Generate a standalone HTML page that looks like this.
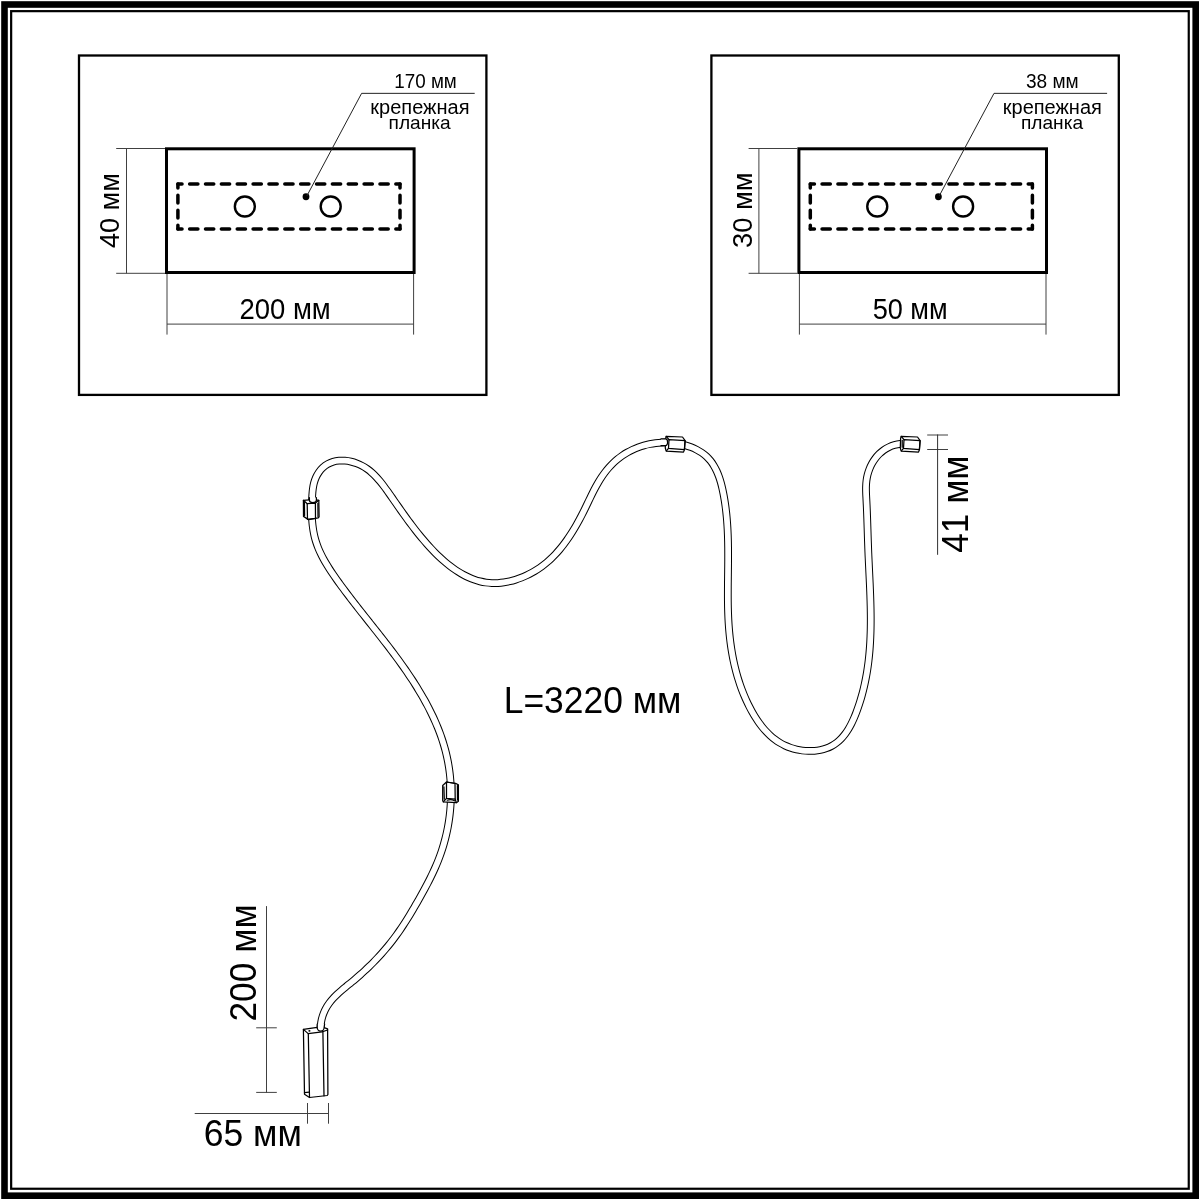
<!DOCTYPE html><html><head><meta charset="utf-8"><style>html,body{margin:0;padding:0;background:#fff;}svg{display:block;will-change:transform;}text{font-family:"Liberation Sans",sans-serif;fill:#000;}</style></head><body>
<svg width="1200" height="1200" viewBox="0 0 1200 1200">
<rect x="0" y="0" width="1200" height="1200" fill="#fff"/>
<rect x="4.5" y="4.5" width="1191.2" height="1191.2" fill="none" stroke="#000" stroke-width="6.6"/>
<rect x="11.15" y="11.15" width="1177.6" height="1177.6" fill="none" stroke="#000" stroke-width="2.2"/>
<g transform="translate(0,0)">
<rect x="79" y="55.5" width="407.4" height="339.4" fill="none" stroke="#000" stroke-width="2.3"/>
<rect x="166.5" y="148.8" width="247.6" height="123.7" fill="none" stroke="#000" stroke-width="3"/>
<g stroke="#000" stroke-width="3.5" stroke-linecap="round" fill="none">
<line x1="177.9" y1="184.1" x2="400" y2="184.1" stroke-dasharray="8.25 7.61" stroke-dashoffset="4.12"/>
<line x1="177.9" y1="229.1" x2="400" y2="229.1" stroke-dasharray="8.25 7.61" stroke-dashoffset="4.12"/>
<line x1="177.9" y1="184.1" x2="177.9" y2="229.1" stroke-dasharray="7.8 7.2" stroke-dashoffset="3.9"/>
<line x1="400" y1="184.1" x2="400" y2="229.1" stroke-dasharray="7.8 7.2" stroke-dashoffset="3.9"/>
</g>
<circle cx="244.85" cy="206.5" r="10" fill="none" stroke="#000" stroke-width="2.4"/>
<circle cx="330.7" cy="206.5" r="10" fill="none" stroke="#000" stroke-width="2.4"/>
<circle cx="306" cy="196.75" r="3.4" fill="#000"/>
<polyline points="306.8,196 361.6,93.35 474.7,93.35" fill="none" stroke="#222" stroke-width="1"/>
<g stroke="#404040" stroke-width="1" fill="none">
<line x1="116.2" y1="148.5" x2="165" y2="148.5"/>
<line x1="116.2" y1="273.3" x2="165" y2="273.3"/>
<line x1="126.5" y1="148.5" x2="126.5" y2="273.3"/>
<line x1="167" y1="274" x2="167" y2="334.6"/>
<line x1="413.6" y1="274" x2="413.6" y2="334.6"/>
<line x1="167" y1="324.1" x2="413.6" y2="324.1"/>
</g>
</g>
<g transform="translate(632.4,0)">
<rect x="79" y="55.5" width="407.4" height="339.4" fill="none" stroke="#000" stroke-width="2.3"/>
<rect x="166.5" y="148.8" width="247.6" height="123.7" fill="none" stroke="#000" stroke-width="3"/>
<g stroke="#000" stroke-width="3.5" stroke-linecap="round" fill="none">
<line x1="177.9" y1="184.1" x2="400" y2="184.1" stroke-dasharray="8.25 7.61" stroke-dashoffset="4.12"/>
<line x1="177.9" y1="229.1" x2="400" y2="229.1" stroke-dasharray="8.25 7.61" stroke-dashoffset="4.12"/>
<line x1="177.9" y1="184.1" x2="177.9" y2="229.1" stroke-dasharray="7.8 7.2" stroke-dashoffset="3.9"/>
<line x1="400" y1="184.1" x2="400" y2="229.1" stroke-dasharray="7.8 7.2" stroke-dashoffset="3.9"/>
</g>
<circle cx="244.85" cy="206.5" r="10" fill="none" stroke="#000" stroke-width="2.4"/>
<circle cx="330.7" cy="206.5" r="10" fill="none" stroke="#000" stroke-width="2.4"/>
<circle cx="306" cy="196.75" r="3.4" fill="#000"/>
<polyline points="306.8,196 361.6,93.35 474.7,93.35" fill="none" stroke="#222" stroke-width="1"/>
<g stroke="#404040" stroke-width="1" fill="none">
<line x1="116.2" y1="148.5" x2="165" y2="148.5"/>
<line x1="116.2" y1="273.3" x2="165" y2="273.3"/>
<line x1="126.5" y1="148.5" x2="126.5" y2="273.3"/>
<line x1="167" y1="274" x2="167" y2="334.6"/>
<line x1="413.6" y1="274" x2="413.6" y2="334.6"/>
<line x1="167" y1="324.1" x2="413.6" y2="324.1"/>
</g>
</g>
<text x="394.27" y="88" font-size="19.69" textLength="62.53" lengthAdjust="spacingAndGlyphs">170 мм</text>
<text x="370.36" y="114.25" font-size="19.31" textLength="99.13" lengthAdjust="spacingAndGlyphs">крепежная</text>
<text x="388.56" y="128.8" font-size="18.55" textLength="62.14" lengthAdjust="spacingAndGlyphs">планка</text>
<text x="239.42" y="319.3" font-size="28.79" textLength="91.27" lengthAdjust="spacingAndGlyphs">200 мм</text>
<text transform="translate(119,247.5) rotate(-90)" x="-0.62" y="0" font-size="27.21" textLength="74.99" lengthAdjust="spacingAndGlyphs">40 мм</text>
<text x="1025.97" y="88" font-size="19.69" textLength="52.74" lengthAdjust="spacingAndGlyphs">38 мм</text>
<text x="1002.76" y="114.25" font-size="19.31" textLength="99.13" lengthAdjust="spacingAndGlyphs">крепежная</text>
<text x="1020.96" y="128.8" font-size="18.55" textLength="62.14" lengthAdjust="spacingAndGlyphs">планка</text>
<text x="872.66" y="319.2" font-size="28.79" textLength="75" lengthAdjust="spacingAndGlyphs">50 мм</text>
<text transform="translate(752.25,246.9) rotate(-90)" x="-1.04" y="0" font-size="27.21" textLength="75.42" lengthAdjust="spacingAndGlyphs">30 мм</text>
<text x="503.69" y="712.9" font-size="36.38" textLength="177.74" lengthAdjust="spacingAndGlyphs">L=3220 мм</text>
<text transform="translate(968.4,551.9) rotate(-90)" x="-0.81" y="0" font-size="36.48" textLength="97.12" lengthAdjust="spacingAndGlyphs">41 мм</text>
<text transform="translate(255.9,1019.8) rotate(-90)" x="-1.78" y="0" font-size="36.38" textLength="117.31" lengthAdjust="spacingAndGlyphs">200 мм</text>
<text x="203.7" y="1146.3" font-size="36.66" textLength="98.15" lengthAdjust="spacingAndGlyphs">65 мм</text>
<g stroke="#404040" stroke-width="1" fill="none">
<line x1="927.2" y1="435" x2="948" y2="435"/>
<line x1="927.2" y1="449.5" x2="948" y2="449.5"/>
<line x1="937.6" y1="434.5" x2="937.6" y2="554.8" stroke="#303030"/>
<line x1="266.5" y1="906.1" x2="266.5" y2="1092.8"/>
<line x1="256.2" y1="1027.8" x2="276.8" y2="1027.8"/>
<line x1="256.2" y1="1092.4" x2="276.8" y2="1092.4"/>
<line x1="194.7" y1="1113.5" x2="329" y2="1113.5"/>
<line x1="307.5" y1="1103" x2="307.5" y2="1123.7"/>
<line x1="328.5" y1="1103" x2="328.5" y2="1123.7"/>
</g>
<path d="M320.73,1031.21 C320.74,1030.21 320.62,1027.19 320.78,1025.19 C320.95,1023.19 321.28,1021.15 321.73,1019.2 C322.18,1017.26 322.78,1015.36 323.49,1013.52 C324.21,1011.67 325.06,1009.87 326.03,1008.12 C327,1006.37 328.14,1004.64 329.32,1003.02 C330.51,1001.41 331.79,999.9 333.13,998.43 C334.47,996.95 335.92,995.53 337.37,994.15 C338.82,992.78 340.34,991.47 341.84,990.17 C343.35,988.87 344.87,987.64 346.42,986.37 C347.96,985.09 349.57,983.81 351.12,982.54 C352.66,981.26 354.17,980.01 355.69,978.71 C357.21,977.41 358.75,976.07 360.25,974.75 C361.74,973.42 363.18,972.11 364.64,970.76 C366.1,969.41 367.57,968.02 369,966.63 C370.44,965.23 371.86,963.83 373.27,962.4 C374.67,960.98 376.04,959.56 377.42,958.09 C378.8,956.62 380.19,955.11 381.53,953.61 C382.87,952.12 384.17,950.63 385.46,949.11 C386.75,947.59 388.02,946.06 389.27,944.5 C390.52,942.95 391.74,941.4 392.95,939.8 C394.17,938.2 395.4,936.55 396.57,934.92 C397.75,933.28 398.89,931.66 400.02,930.01 C401.15,928.37 402.26,926.7 403.36,925.03 C404.46,923.36 405.55,921.66 406.61,919.97 C407.67,918.29 408.7,916.64 409.73,914.94 C410.77,913.24 411.81,911.5 412.83,909.77 C413.85,908.04 414.86,906.3 415.86,904.56 C416.87,902.82 417.87,901.06 418.85,899.33 C419.83,897.59 420.78,895.89 421.75,894.15 C422.71,892.41 423.69,890.64 424.64,888.87 C425.59,887.11 426.54,885.34 427.46,883.56 C428.39,881.79 429.3,880.01 430.19,878.22 C431.08,876.43 431.96,874.63 432.81,872.82 C433.66,871.01 434.49,869.2 435.29,867.37 C436.1,865.54 436.88,863.71 437.63,861.86 C438.38,860.01 439.11,858.15 439.8,856.27 C440.49,854.4 441.15,852.51 441.78,850.61 C442.41,848.71 443,846.8 443.57,844.88 C444.13,842.96 444.67,841.03 445.17,839.09 C445.67,837.15 446.14,835.2 446.57,833.24 C447.01,831.29 447.42,829.32 447.79,827.35 C448.16,825.38 448.5,823.4 448.81,821.42 C449.11,819.44 449.39,817.43 449.63,815.46 C449.87,813.48 450.07,811.54 450.24,809.56 C450.42,807.58 450.56,805.56 450.67,803.56 C450.78,801.56 450.85,799.55 450.9,797.55 C450.94,795.54 450.95,793.54 450.92,791.54 C450.89,789.53 450.83,787.53 450.74,785.53 C450.65,783.53 450.52,781.54 450.35,779.54 C450.19,777.55 450,775.56 449.76,773.58 C449.53,771.6 449.27,769.62 448.96,767.64 C448.66,765.67 448.33,763.72 447.96,761.75 C447.58,759.77 447.16,757.76 446.72,755.81 C446.27,753.85 445.8,751.93 445.28,750.01 C444.77,748.08 444.23,746.17 443.65,744.26 C443.08,742.36 442.47,740.47 441.83,738.57 C441.19,736.67 440.5,734.73 439.79,732.85 C439.09,730.96 438.37,729.12 437.62,727.26 C436.86,725.41 436.08,723.57 435.28,721.74 C434.47,719.9 433.64,718.06 432.79,716.26 C431.94,714.46 431.09,712.71 430.2,710.93 C429.31,709.14 428.38,707.34 427.44,705.56 C426.5,703.78 425.53,702 424.56,700.25 C423.59,698.51 422.62,696.81 421.62,695.08 C420.61,693.35 419.56,691.6 418.52,689.89 C417.49,688.18 416.46,686.52 415.39,684.83 C414.32,683.13 413.22,681.41 412.12,679.74 C411.03,678.07 409.95,676.45 408.84,674.79 C407.72,673.14 406.58,671.47 405.44,669.82 C404.3,668.18 403.14,666.54 401.98,664.91 C400.82,663.28 399.65,661.66 398.48,660.04 C397.3,658.43 396.12,656.82 394.93,655.22 C393.74,653.62 392.55,652.03 391.33,650.43 C390.12,648.83 388.88,647.2 387.65,645.6 C386.43,644.01 385.22,642.44 384,640.87 C382.78,639.3 381.55,637.73 380.32,636.16 C379.09,634.59 377.87,633.04 376.63,631.46 C375.38,629.89 374.11,628.28 372.86,626.7 C371.61,625.13 370.38,623.58 369.15,622.02 C367.91,620.45 366.67,618.89 365.43,617.33 C364.19,615.76 362.95,614.2 361.72,612.63 C360.48,611.06 359.24,609.49 358.01,607.92 C356.78,606.34 355.55,604.77 354.32,603.18 C353.09,601.6 351.87,600.02 350.65,598.42 C349.43,596.83 348.22,595.24 347.01,593.63 C345.8,592.03 344.58,590.41 343.39,588.8 C342.2,587.2 341.04,585.61 339.87,584.01 C338.7,582.4 337.55,580.8 336.39,579.16 C335.23,577.53 334.05,575.85 332.92,574.19 C331.79,572.53 330.7,570.9 329.62,569.22 C328.54,567.54 327.46,565.82 326.43,564.1 C325.4,562.38 324.4,560.65 323.45,558.9 C322.5,557.14 321.6,555.39 320.74,553.59 C319.88,551.79 319.05,549.94 318.3,548.09 C317.55,546.23 316.85,544.36 316.24,542.46 C315.62,540.56 315.07,538.64 314.59,536.7 C314.12,534.76 313.72,532.78 313.38,530.81 C313.04,528.84 312.77,526.88 312.55,524.89 C312.33,522.91 312.17,520.89 312.05,518.89 C311.93,516.89 311.86,514.91 311.82,512.91 C311.79,510.91 311.79,508.88 311.82,506.88 C311.85,504.88 311.91,502.92 311.98,500.91 C312.06,498.91 312.15,496.84 312.29,494.84 C312.43,492.85 312.57,490.9 312.85,488.93 C313.13,486.96 313.45,484.95 313.97,483.02 C314.49,481.1 315.13,479.18 315.95,477.37 C316.77,475.56 317.75,473.78 318.89,472.16 C320.03,470.54 321.32,468.99 322.77,467.64 C324.23,466.28 325.91,465 327.64,464.02 C329.36,463.03 331.23,462.28 333.13,461.72 C335.02,461.17 337.03,460.86 339.01,460.69 C340.99,460.52 343.01,460.56 345,460.72 C347,460.88 349.02,461.21 350.96,461.65 C352.91,462.09 354.82,462.67 356.68,463.36 C358.54,464.06 360.36,464.88 362.13,465.83 C363.89,466.77 365.64,467.88 367.26,469.03 C368.89,470.18 370.4,471.42 371.89,472.74 C373.38,474.06 374.83,475.51 376.21,476.96 C377.59,478.4 378.87,479.89 380.16,481.44 C381.44,482.98 382.7,484.62 383.91,486.22 C385.12,487.82 386.26,489.42 387.42,491.04 C388.57,492.66 389.71,494.31 390.85,495.94 C391.99,497.58 393.11,499.2 394.25,500.85 C395.4,502.5 396.57,504.19 397.72,505.83 C398.86,507.47 399.98,509.07 401.13,510.7 C402.28,512.33 403.45,513.98 404.62,515.61 C405.79,517.23 406.94,518.83 408.13,520.44 C409.32,522.06 410.53,523.69 411.74,525.29 C412.95,526.89 414.16,528.46 415.39,530.03 C416.62,531.61 417.86,533.18 419.12,534.74 C420.38,536.29 421.66,537.84 422.95,539.37 C424.24,540.89 425.53,542.39 426.85,543.88 C428.18,545.38 429.52,546.86 430.89,548.33 C432.26,549.79 433.65,551.24 435.06,552.66 C436.48,554.08 437.91,555.48 439.37,556.85 C440.82,558.21 442.28,559.55 443.79,560.86 C445.3,562.17 446.84,563.46 448.42,564.71 C449.99,565.96 451.61,567.19 453.24,568.35 C454.87,569.51 456.51,570.62 458.19,571.69 C459.88,572.75 461.6,573.77 463.35,574.72 C465.1,575.67 466.89,576.56 468.71,577.38 C470.53,578.2 472.38,578.96 474.27,579.62 C476.16,580.29 478.1,580.88 480.05,581.37 C481.99,581.86 483.98,582.25 485.95,582.54 C487.92,582.83 489.88,583 491.87,583.08 C493.86,583.17 495.89,583.14 497.89,583.03 C499.88,582.91 501.86,582.7 503.85,582.41 C505.84,582.12 507.86,581.73 509.81,581.28 C511.76,580.83 513.64,580.31 515.54,579.72 C517.44,579.13 519.33,578.46 521.19,577.73 C523.05,577 524.9,576.2 526.71,575.34 C528.52,574.48 530.32,573.56 532.07,572.59 C533.82,571.61 535.54,570.58 537.22,569.5 C538.9,568.41 540.52,567.29 542.13,566.1 C543.73,564.91 545.32,563.65 546.84,562.36 C548.37,561.07 549.86,559.73 551.3,558.35 C552.75,556.97 554.15,555.55 555.52,554.1 C556.88,552.64 558.21,551.15 559.51,549.63 C560.8,548.1 562.05,546.54 563.28,544.95 C564.51,543.37 565.7,541.74 566.86,540.11 C568.01,538.48 569.11,536.86 570.2,535.18 C571.3,533.51 572.39,531.77 573.43,530.05 C574.48,528.34 575.48,526.63 576.47,524.89 C577.46,523.16 578.42,521.41 579.37,519.65 C580.32,517.89 581.24,516.12 582.15,514.34 C583.06,512.57 583.94,510.79 584.83,508.99 C585.72,507.19 586.6,505.34 587.47,503.54 C588.34,501.74 589.17,499.98 590.04,498.19 C590.91,496.4 591.78,494.6 592.69,492.81 C593.59,491.01 594.52,489.19 595.47,487.43 C596.42,485.66 597.37,483.96 598.38,482.24 C599.4,480.53 600.46,478.81 601.57,477.14 C602.68,475.47 603.83,473.83 605.05,472.23 C606.27,470.64 607.56,469.06 608.88,467.56 C610.21,466.07 611.57,464.63 613,463.25 C614.42,461.87 615.89,460.54 617.43,459.27 C618.98,458 620.62,456.77 622.26,455.63 C623.91,454.5 625.57,453.45 627.31,452.46 C629.04,451.47 630.87,450.52 632.69,449.67 C634.5,448.82 636.33,448.05 638.2,447.35 C640.08,446.65 642,446.02 643.91,445.47 C645.82,444.92 647.71,444.46 649.67,444.06 C651.62,443.66 653.65,443.32 655.64,443.07 C657.62,442.82 659.6,442.65 661.59,442.56 C663.59,442.46 665.59,442.44 667.59,442.5 C669.59,442.56 671.59,442.7 673.58,442.92 C675.57,443.14 677.55,443.44 679.51,443.82 C681.46,444.2 683.39,444.66 685.32,445.22 C687.24,445.78 689.19,446.43 691.05,447.16 C692.91,447.89 694.7,448.69 696.47,449.6 C698.23,450.52 699.99,451.51 701.64,452.63 C703.29,453.76 704.92,455.01 706.39,456.37 C707.86,457.73 709.24,459.24 710.48,460.79 C711.72,462.34 712.83,463.97 713.85,465.67 C714.88,467.37 715.81,469.17 716.66,470.99 C717.5,472.81 718.24,474.68 718.93,476.57 C719.61,478.46 720.21,480.41 720.76,482.32 C721.31,484.23 721.78,486.11 722.23,488.05 C722.68,489.99 723.09,491.98 723.47,493.96 C723.85,495.93 724.2,497.91 724.52,499.88 C724.84,501.86 725.14,503.83 725.41,505.8 C725.68,507.78 725.92,509.74 726.14,511.73 C726.37,513.72 726.57,515.73 726.75,517.74 C726.93,519.74 727.08,521.76 727.22,523.75 C727.36,525.74 727.48,527.68 727.58,529.67 C727.68,531.66 727.77,533.67 727.84,535.68 C727.91,537.68 727.97,539.68 728.01,541.68 C728.06,543.69 728.09,545.69 728.11,547.69 C728.13,549.69 728.14,551.69 728.14,553.69 C728.15,555.69 728.14,557.69 728.13,559.7 C728.12,561.7 728.11,563.7 728.09,565.7 C728.07,567.7 728.04,569.7 728.02,571.69 C728,573.69 727.97,575.69 727.95,577.69 C727.93,579.69 727.9,581.69 727.88,583.69 C727.86,585.69 727.85,587.68 727.84,589.68 C727.83,591.68 727.82,593.68 727.83,595.67 C727.83,597.67 727.84,599.65 727.86,601.66 C727.89,603.68 727.92,605.73 727.96,607.75 C728.01,609.76 728.06,611.74 728.14,613.73 C728.21,615.73 728.3,617.72 728.4,619.72 C728.51,621.71 728.62,623.71 728.77,625.7 C728.91,627.7 729.07,629.69 729.25,631.68 C729.43,633.68 729.63,635.67 729.85,637.66 C730.07,639.65 730.32,641.64 730.59,643.62 C730.85,645.6 731.15,647.59 731.46,649.56 C731.78,651.54 732.12,653.53 732.48,655.48 C732.84,657.44 733.22,659.34 733.63,661.29 C734.05,663.23 734.49,665.2 734.96,667.14 C735.44,669.09 735.93,671.03 736.46,672.96 C736.99,674.89 737.55,676.81 738.13,678.73 C738.72,680.64 739.34,682.55 739.99,684.45 C740.64,686.34 741.32,688.23 742.03,690.11 C742.74,691.98 743.49,693.86 744.27,695.7 C745.04,697.54 745.83,699.33 746.67,701.15 C747.51,702.96 748.41,704.81 749.32,706.6 C750.23,708.39 751.16,710.15 752.14,711.89 C753.12,713.62 754.13,715.35 755.19,717.04 C756.24,718.72 757.33,720.38 758.48,722.01 C759.63,723.64 760.84,725.26 762.1,726.82 C763.35,728.37 764.63,729.88 766,731.34 C767.36,732.8 768.79,734.23 770.27,735.58 C771.75,736.92 773.28,738.21 774.87,739.41 C776.47,740.61 778.11,741.74 779.83,742.77 C781.54,743.81 783.34,744.78 785.15,745.62 C786.96,746.47 788.79,747.2 790.68,747.84 C792.57,748.49 794.55,749.04 796.51,749.49 C798.46,749.94 800.44,750.28 802.42,750.53 C804.41,750.78 806.42,750.93 808.41,750.98 C810.4,751.02 812.37,750.97 814.36,750.8 C816.35,750.63 818.4,750.35 820.35,749.95 C822.3,749.54 824.18,749.05 826.06,748.38 C827.93,747.72 829.85,746.91 831.6,745.97 C833.36,745.03 835.01,743.95 836.59,742.74 C838.17,741.52 839.69,740.13 841.08,738.7 C842.48,737.26 843.74,735.74 844.95,734.15 C846.15,732.56 847.26,730.88 848.32,729.17 C849.37,727.47 850.35,725.67 851.26,723.89 C852.18,722.12 853,720.33 853.81,718.51 C854.61,716.69 855.37,714.82 856.09,712.95 C856.81,711.09 857.49,709.2 858.14,707.31 C858.8,705.43 859.41,703.55 860.01,701.65 C860.61,699.74 861.18,697.81 861.72,695.88 C862.26,693.96 862.76,692.05 863.25,690.1 C863.73,688.16 864.2,686.19 864.63,684.22 C865.06,682.26 865.46,680.3 865.84,678.33 C866.22,676.36 866.57,674.39 866.9,672.42 C867.23,670.45 867.53,668.48 867.8,666.51 C868.08,664.53 868.34,662.57 868.57,660.58 C868.81,658.59 869.02,656.55 869.21,654.55 C869.41,652.56 869.57,650.59 869.72,648.61 C869.87,646.62 870,644.65 870.12,642.65 C870.23,640.65 870.33,638.6 870.41,636.6 C870.49,634.59 870.56,632.62 870.61,630.63 C870.66,628.64 870.69,626.64 870.71,624.65 C870.73,622.66 870.74,620.68 870.74,618.67 C870.74,616.66 870.72,614.6 870.69,612.59 C870.67,610.58 870.63,608.59 870.59,606.59 C870.54,604.6 870.49,602.6 870.43,600.6 C870.37,598.6 870.3,596.6 870.23,594.6 C870.16,592.6 870.08,590.58 869.99,588.59 C869.91,586.61 869.83,584.67 869.74,582.68 C869.65,580.69 869.55,578.67 869.46,576.67 C869.36,574.67 869.27,572.66 869.17,570.66 C869.08,568.66 868.98,566.65 868.89,564.65 C868.79,562.65 868.7,560.64 868.61,558.64 C868.52,556.64 868.43,554.62 868.35,552.63 C868.27,550.64 868.19,548.7 868.12,546.71 C868.05,544.73 867.98,542.71 867.91,540.71 C867.84,538.7 867.78,536.7 867.72,534.7 C867.65,532.69 867.59,530.69 867.53,528.69 C867.47,526.69 867.4,524.68 867.34,522.68 C867.27,520.67 867.21,518.67 867.13,516.66 C867.06,514.66 866.99,512.64 866.91,510.65 C866.83,508.66 866.74,506.71 866.65,504.72 C866.56,502.72 866.45,500.7 866.35,498.69 C866.25,496.68 866.13,494.65 866.07,492.66 C866.02,490.67 865.96,488.74 866.03,486.75 C866.09,484.75 866.2,482.68 866.46,480.69 C866.71,478.7 867.08,476.74 867.57,474.81 C868.06,472.87 868.67,470.95 869.39,469.09 C870.12,467.24 870.97,465.41 871.92,463.67 C872.87,461.93 873.93,460.25 875.12,458.66 C876.31,457.07 877.63,455.52 879.04,454.11 C880.46,452.7 881.99,451.39 883.61,450.23 C885.24,449.07 887.02,448 888.81,447.14 C890.61,446.27 892.48,445.56 894.4,445.02 C896.31,444.48 898.34,444.1 900.31,443.9 C902.28,443.71 905.24,443.86 906.23,443.85" fill="none" stroke="#000" stroke-width="7.75" stroke-linejoin="round"/>
<path d="M320.73,1031.21 C320.74,1030.21 320.62,1027.19 320.78,1025.19 C320.95,1023.19 321.28,1021.15 321.73,1019.2 C322.18,1017.26 322.78,1015.36 323.49,1013.52 C324.21,1011.67 325.06,1009.87 326.03,1008.12 C327,1006.37 328.14,1004.64 329.32,1003.02 C330.51,1001.41 331.79,999.9 333.13,998.43 C334.47,996.95 335.92,995.53 337.37,994.15 C338.82,992.78 340.34,991.47 341.84,990.17 C343.35,988.87 344.87,987.64 346.42,986.37 C347.96,985.09 349.57,983.81 351.12,982.54 C352.66,981.26 354.17,980.01 355.69,978.71 C357.21,977.41 358.75,976.07 360.25,974.75 C361.74,973.42 363.18,972.11 364.64,970.76 C366.1,969.41 367.57,968.02 369,966.63 C370.44,965.23 371.86,963.83 373.27,962.4 C374.67,960.98 376.04,959.56 377.42,958.09 C378.8,956.62 380.19,955.11 381.53,953.61 C382.87,952.12 384.17,950.63 385.46,949.11 C386.75,947.59 388.02,946.06 389.27,944.5 C390.52,942.95 391.74,941.4 392.95,939.8 C394.17,938.2 395.4,936.55 396.57,934.92 C397.75,933.28 398.89,931.66 400.02,930.01 C401.15,928.37 402.26,926.7 403.36,925.03 C404.46,923.36 405.55,921.66 406.61,919.97 C407.67,918.29 408.7,916.64 409.73,914.94 C410.77,913.24 411.81,911.5 412.83,909.77 C413.85,908.04 414.86,906.3 415.86,904.56 C416.87,902.82 417.87,901.06 418.85,899.33 C419.83,897.59 420.78,895.89 421.75,894.15 C422.71,892.41 423.69,890.64 424.64,888.87 C425.59,887.11 426.54,885.34 427.46,883.56 C428.39,881.79 429.3,880.01 430.19,878.22 C431.08,876.43 431.96,874.63 432.81,872.82 C433.66,871.01 434.49,869.2 435.29,867.37 C436.1,865.54 436.88,863.71 437.63,861.86 C438.38,860.01 439.11,858.15 439.8,856.27 C440.49,854.4 441.15,852.51 441.78,850.61 C442.41,848.71 443,846.8 443.57,844.88 C444.13,842.96 444.67,841.03 445.17,839.09 C445.67,837.15 446.14,835.2 446.57,833.24 C447.01,831.29 447.42,829.32 447.79,827.35 C448.16,825.38 448.5,823.4 448.81,821.42 C449.11,819.44 449.39,817.43 449.63,815.46 C449.87,813.48 450.07,811.54 450.24,809.56 C450.42,807.58 450.56,805.56 450.67,803.56 C450.78,801.56 450.85,799.55 450.9,797.55 C450.94,795.54 450.95,793.54 450.92,791.54 C450.89,789.53 450.83,787.53 450.74,785.53 C450.65,783.53 450.52,781.54 450.35,779.54 C450.19,777.55 450,775.56 449.76,773.58 C449.53,771.6 449.27,769.62 448.96,767.64 C448.66,765.67 448.33,763.72 447.96,761.75 C447.58,759.77 447.16,757.76 446.72,755.81 C446.27,753.85 445.8,751.93 445.28,750.01 C444.77,748.08 444.23,746.17 443.65,744.26 C443.08,742.36 442.47,740.47 441.83,738.57 C441.19,736.67 440.5,734.73 439.79,732.85 C439.09,730.96 438.37,729.12 437.62,727.26 C436.86,725.41 436.08,723.57 435.28,721.74 C434.47,719.9 433.64,718.06 432.79,716.26 C431.94,714.46 431.09,712.71 430.2,710.93 C429.31,709.14 428.38,707.34 427.44,705.56 C426.5,703.78 425.53,702 424.56,700.25 C423.59,698.51 422.62,696.81 421.62,695.08 C420.61,693.35 419.56,691.6 418.52,689.89 C417.49,688.18 416.46,686.52 415.39,684.83 C414.32,683.13 413.22,681.41 412.12,679.74 C411.03,678.07 409.95,676.45 408.84,674.79 C407.72,673.14 406.58,671.47 405.44,669.82 C404.3,668.18 403.14,666.54 401.98,664.91 C400.82,663.28 399.65,661.66 398.48,660.04 C397.3,658.43 396.12,656.82 394.93,655.22 C393.74,653.62 392.55,652.03 391.33,650.43 C390.12,648.83 388.88,647.2 387.65,645.6 C386.43,644.01 385.22,642.44 384,640.87 C382.78,639.3 381.55,637.73 380.32,636.16 C379.09,634.59 377.87,633.04 376.63,631.46 C375.38,629.89 374.11,628.28 372.86,626.7 C371.61,625.13 370.38,623.58 369.15,622.02 C367.91,620.45 366.67,618.89 365.43,617.33 C364.19,615.76 362.95,614.2 361.72,612.63 C360.48,611.06 359.24,609.49 358.01,607.92 C356.78,606.34 355.55,604.77 354.32,603.18 C353.09,601.6 351.87,600.02 350.65,598.42 C349.43,596.83 348.22,595.24 347.01,593.63 C345.8,592.03 344.58,590.41 343.39,588.8 C342.2,587.2 341.04,585.61 339.87,584.01 C338.7,582.4 337.55,580.8 336.39,579.16 C335.23,577.53 334.05,575.85 332.92,574.19 C331.79,572.53 330.7,570.9 329.62,569.22 C328.54,567.54 327.46,565.82 326.43,564.1 C325.4,562.38 324.4,560.65 323.45,558.9 C322.5,557.14 321.6,555.39 320.74,553.59 C319.88,551.79 319.05,549.94 318.3,548.09 C317.55,546.23 316.85,544.36 316.24,542.46 C315.62,540.56 315.07,538.64 314.59,536.7 C314.12,534.76 313.72,532.78 313.38,530.81 C313.04,528.84 312.77,526.88 312.55,524.89 C312.33,522.91 312.17,520.89 312.05,518.89 C311.93,516.89 311.86,514.91 311.82,512.91 C311.79,510.91 311.79,508.88 311.82,506.88 C311.85,504.88 311.91,502.92 311.98,500.91 C312.06,498.91 312.15,496.84 312.29,494.84 C312.43,492.85 312.57,490.9 312.85,488.93 C313.13,486.96 313.45,484.95 313.97,483.02 C314.49,481.1 315.13,479.18 315.95,477.37 C316.77,475.56 317.75,473.78 318.89,472.16 C320.03,470.54 321.32,468.99 322.77,467.64 C324.23,466.28 325.91,465 327.64,464.02 C329.36,463.03 331.23,462.28 333.13,461.72 C335.02,461.17 337.03,460.86 339.01,460.69 C340.99,460.52 343.01,460.56 345,460.72 C347,460.88 349.02,461.21 350.96,461.65 C352.91,462.09 354.82,462.67 356.68,463.36 C358.54,464.06 360.36,464.88 362.13,465.83 C363.89,466.77 365.64,467.88 367.26,469.03 C368.89,470.18 370.4,471.42 371.89,472.74 C373.38,474.06 374.83,475.51 376.21,476.96 C377.59,478.4 378.87,479.89 380.16,481.44 C381.44,482.98 382.7,484.62 383.91,486.22 C385.12,487.82 386.26,489.42 387.42,491.04 C388.57,492.66 389.71,494.31 390.85,495.94 C391.99,497.58 393.11,499.2 394.25,500.85 C395.4,502.5 396.57,504.19 397.72,505.83 C398.86,507.47 399.98,509.07 401.13,510.7 C402.28,512.33 403.45,513.98 404.62,515.61 C405.79,517.23 406.94,518.83 408.13,520.44 C409.32,522.06 410.53,523.69 411.74,525.29 C412.95,526.89 414.16,528.46 415.39,530.03 C416.62,531.61 417.86,533.18 419.12,534.74 C420.38,536.29 421.66,537.84 422.95,539.37 C424.24,540.89 425.53,542.39 426.85,543.88 C428.18,545.38 429.52,546.86 430.89,548.33 C432.26,549.79 433.65,551.24 435.06,552.66 C436.48,554.08 437.91,555.48 439.37,556.85 C440.82,558.21 442.28,559.55 443.79,560.86 C445.3,562.17 446.84,563.46 448.42,564.71 C449.99,565.96 451.61,567.19 453.24,568.35 C454.87,569.51 456.51,570.62 458.19,571.69 C459.88,572.75 461.6,573.77 463.35,574.72 C465.1,575.67 466.89,576.56 468.71,577.38 C470.53,578.2 472.38,578.96 474.27,579.62 C476.16,580.29 478.1,580.88 480.05,581.37 C481.99,581.86 483.98,582.25 485.95,582.54 C487.92,582.83 489.88,583 491.87,583.08 C493.86,583.17 495.89,583.14 497.89,583.03 C499.88,582.91 501.86,582.7 503.85,582.41 C505.84,582.12 507.86,581.73 509.81,581.28 C511.76,580.83 513.64,580.31 515.54,579.72 C517.44,579.13 519.33,578.46 521.19,577.73 C523.05,577 524.9,576.2 526.71,575.34 C528.52,574.48 530.32,573.56 532.07,572.59 C533.82,571.61 535.54,570.58 537.22,569.5 C538.9,568.41 540.52,567.29 542.13,566.1 C543.73,564.91 545.32,563.65 546.84,562.36 C548.37,561.07 549.86,559.73 551.3,558.35 C552.75,556.97 554.15,555.55 555.52,554.1 C556.88,552.64 558.21,551.15 559.51,549.63 C560.8,548.1 562.05,546.54 563.28,544.95 C564.51,543.37 565.7,541.74 566.86,540.11 C568.01,538.48 569.11,536.86 570.2,535.18 C571.3,533.51 572.39,531.77 573.43,530.05 C574.48,528.34 575.48,526.63 576.47,524.89 C577.46,523.16 578.42,521.41 579.37,519.65 C580.32,517.89 581.24,516.12 582.15,514.34 C583.06,512.57 583.94,510.79 584.83,508.99 C585.72,507.19 586.6,505.34 587.47,503.54 C588.34,501.74 589.17,499.98 590.04,498.19 C590.91,496.4 591.78,494.6 592.69,492.81 C593.59,491.01 594.52,489.19 595.47,487.43 C596.42,485.66 597.37,483.96 598.38,482.24 C599.4,480.53 600.46,478.81 601.57,477.14 C602.68,475.47 603.83,473.83 605.05,472.23 C606.27,470.64 607.56,469.06 608.88,467.56 C610.21,466.07 611.57,464.63 613,463.25 C614.42,461.87 615.89,460.54 617.43,459.27 C618.98,458 620.62,456.77 622.26,455.63 C623.91,454.5 625.57,453.45 627.31,452.46 C629.04,451.47 630.87,450.52 632.69,449.67 C634.5,448.82 636.33,448.05 638.2,447.35 C640.08,446.65 642,446.02 643.91,445.47 C645.82,444.92 647.71,444.46 649.67,444.06 C651.62,443.66 653.65,443.32 655.64,443.07 C657.62,442.82 659.6,442.65 661.59,442.56 C663.59,442.46 665.59,442.44 667.59,442.5 C669.59,442.56 671.59,442.7 673.58,442.92 C675.57,443.14 677.55,443.44 679.51,443.82 C681.46,444.2 683.39,444.66 685.32,445.22 C687.24,445.78 689.19,446.43 691.05,447.16 C692.91,447.89 694.7,448.69 696.47,449.6 C698.23,450.52 699.99,451.51 701.64,452.63 C703.29,453.76 704.92,455.01 706.39,456.37 C707.86,457.73 709.24,459.24 710.48,460.79 C711.72,462.34 712.83,463.97 713.85,465.67 C714.88,467.37 715.81,469.17 716.66,470.99 C717.5,472.81 718.24,474.68 718.93,476.57 C719.61,478.46 720.21,480.41 720.76,482.32 C721.31,484.23 721.78,486.11 722.23,488.05 C722.68,489.99 723.09,491.98 723.47,493.96 C723.85,495.93 724.2,497.91 724.52,499.88 C724.84,501.86 725.14,503.83 725.41,505.8 C725.68,507.78 725.92,509.74 726.14,511.73 C726.37,513.72 726.57,515.73 726.75,517.74 C726.93,519.74 727.08,521.76 727.22,523.75 C727.36,525.74 727.48,527.68 727.58,529.67 C727.68,531.66 727.77,533.67 727.84,535.68 C727.91,537.68 727.97,539.68 728.01,541.68 C728.06,543.69 728.09,545.69 728.11,547.69 C728.13,549.69 728.14,551.69 728.14,553.69 C728.15,555.69 728.14,557.69 728.13,559.7 C728.12,561.7 728.11,563.7 728.09,565.7 C728.07,567.7 728.04,569.7 728.02,571.69 C728,573.69 727.97,575.69 727.95,577.69 C727.93,579.69 727.9,581.69 727.88,583.69 C727.86,585.69 727.85,587.68 727.84,589.68 C727.83,591.68 727.82,593.68 727.83,595.67 C727.83,597.67 727.84,599.65 727.86,601.66 C727.89,603.68 727.92,605.73 727.96,607.75 C728.01,609.76 728.06,611.74 728.14,613.73 C728.21,615.73 728.3,617.72 728.4,619.72 C728.51,621.71 728.62,623.71 728.77,625.7 C728.91,627.7 729.07,629.69 729.25,631.68 C729.43,633.68 729.63,635.67 729.85,637.66 C730.07,639.65 730.32,641.64 730.59,643.62 C730.85,645.6 731.15,647.59 731.46,649.56 C731.78,651.54 732.12,653.53 732.48,655.48 C732.84,657.44 733.22,659.34 733.63,661.29 C734.05,663.23 734.49,665.2 734.96,667.14 C735.44,669.09 735.93,671.03 736.46,672.96 C736.99,674.89 737.55,676.81 738.13,678.73 C738.72,680.64 739.34,682.55 739.99,684.45 C740.64,686.34 741.32,688.23 742.03,690.11 C742.74,691.98 743.49,693.86 744.27,695.7 C745.04,697.54 745.83,699.33 746.67,701.15 C747.51,702.96 748.41,704.81 749.32,706.6 C750.23,708.39 751.16,710.15 752.14,711.89 C753.12,713.62 754.13,715.35 755.19,717.04 C756.24,718.72 757.33,720.38 758.48,722.01 C759.63,723.64 760.84,725.26 762.1,726.82 C763.35,728.37 764.63,729.88 766,731.34 C767.36,732.8 768.79,734.23 770.27,735.58 C771.75,736.92 773.28,738.21 774.87,739.41 C776.47,740.61 778.11,741.74 779.83,742.77 C781.54,743.81 783.34,744.78 785.15,745.62 C786.96,746.47 788.79,747.2 790.68,747.84 C792.57,748.49 794.55,749.04 796.51,749.49 C798.46,749.94 800.44,750.28 802.42,750.53 C804.41,750.78 806.42,750.93 808.41,750.98 C810.4,751.02 812.37,750.97 814.36,750.8 C816.35,750.63 818.4,750.35 820.35,749.95 C822.3,749.54 824.18,749.05 826.06,748.38 C827.93,747.72 829.85,746.91 831.6,745.97 C833.36,745.03 835.01,743.95 836.59,742.74 C838.17,741.52 839.69,740.13 841.08,738.7 C842.48,737.26 843.74,735.74 844.95,734.15 C846.15,732.56 847.26,730.88 848.32,729.17 C849.37,727.47 850.35,725.67 851.26,723.89 C852.18,722.12 853,720.33 853.81,718.51 C854.61,716.69 855.37,714.82 856.09,712.95 C856.81,711.09 857.49,709.2 858.14,707.31 C858.8,705.43 859.41,703.55 860.01,701.65 C860.61,699.74 861.18,697.81 861.72,695.88 C862.26,693.96 862.76,692.05 863.25,690.1 C863.73,688.16 864.2,686.19 864.63,684.22 C865.06,682.26 865.46,680.3 865.84,678.33 C866.22,676.36 866.57,674.39 866.9,672.42 C867.23,670.45 867.53,668.48 867.8,666.51 C868.08,664.53 868.34,662.57 868.57,660.58 C868.81,658.59 869.02,656.55 869.21,654.55 C869.41,652.56 869.57,650.59 869.72,648.61 C869.87,646.62 870,644.65 870.12,642.65 C870.23,640.65 870.33,638.6 870.41,636.6 C870.49,634.59 870.56,632.62 870.61,630.63 C870.66,628.64 870.69,626.64 870.71,624.65 C870.73,622.66 870.74,620.68 870.74,618.67 C870.74,616.66 870.72,614.6 870.69,612.59 C870.67,610.58 870.63,608.59 870.59,606.59 C870.54,604.6 870.49,602.6 870.43,600.6 C870.37,598.6 870.3,596.6 870.23,594.6 C870.16,592.6 870.08,590.58 869.99,588.59 C869.91,586.61 869.83,584.67 869.74,582.68 C869.65,580.69 869.55,578.67 869.46,576.67 C869.36,574.67 869.27,572.66 869.17,570.66 C869.08,568.66 868.98,566.65 868.89,564.65 C868.79,562.65 868.7,560.64 868.61,558.64 C868.52,556.64 868.43,554.62 868.35,552.63 C868.27,550.64 868.19,548.7 868.12,546.71 C868.05,544.73 867.98,542.71 867.91,540.71 C867.84,538.7 867.78,536.7 867.72,534.7 C867.65,532.69 867.59,530.69 867.53,528.69 C867.47,526.69 867.4,524.68 867.34,522.68 C867.27,520.67 867.21,518.67 867.13,516.66 C867.06,514.66 866.99,512.64 866.91,510.65 C866.83,508.66 866.74,506.71 866.65,504.72 C866.56,502.72 866.45,500.7 866.35,498.69 C866.25,496.68 866.13,494.65 866.07,492.66 C866.02,490.67 865.96,488.74 866.03,486.75 C866.09,484.75 866.2,482.68 866.46,480.69 C866.71,478.7 867.08,476.74 867.57,474.81 C868.06,472.87 868.67,470.95 869.39,469.09 C870.12,467.24 870.97,465.41 871.92,463.67 C872.87,461.93 873.93,460.25 875.12,458.66 C876.31,457.07 877.63,455.52 879.04,454.11 C880.46,452.7 881.99,451.39 883.61,450.23 C885.24,449.07 887.02,448 888.81,447.14 C890.61,446.27 892.48,445.56 894.4,445.02 C896.31,444.48 898.34,444.1 900.31,443.9 C902.28,443.71 905.24,443.86 906.23,443.85" fill="none" stroke="#fff" stroke-width="5.75" stroke-linejoin="round"/>
<g fill="#fff" stroke="#000" stroke-width="1.25" stroke-linejoin="round" stroke-linecap="round">
<polygon points="303.4,500.3 309.3,499.9 316.4,499.9 318.8,500.3 319.1,516.8 318.2,517.9 308.5,519.6 303.5,516.4"/>
<polygon points="307.2,503.7 315.4,503.1 315.5,518.4 307.5,519.4" fill="none"/>
<polyline points="303.4,500.3 307.2,503.7" fill="none"/><polyline points="315.4,503.1 318.8,500.3" fill="none"/>
<polyline points="304.4,502.5 304.6,515.5" fill="none"/><polyline points="317.9,503.3 318,516.8" fill="none"/>
<path d="M309.4,497.5 L309.4,500.2 A3.5,2.3 0 0 0 316.4,500.2 L316.4,497.5"/>
<polygon points="442.7,785.5 446.5,782 455.5,783.3 458.4,784.9 458.4,801.2 456.4,802.7 443.3,801.8 442.7,800.5"/>
<polygon points="446.5,782 455,783.5 455.2,799.2 446.5,798.3" fill="none"/>
<polyline points="443.9,786.8 444.3,799.2" fill="none"/><polyline points="457.4,785.5 457.5,800" fill="none"/>
<polyline points="446.5,798.3 443.3,801.8" fill="none"/><polyline points="455.2,799.2 456.4,802.7" fill="none"/>
<path d="M447.3,800.2 Q451,798.6 454.6,800.8" fill="none"/>
<g transform="translate(0,0)">
<polygon points="666.2,436.3 682.5,437 685.1,440.6 684.4,449.7 683.5,452.1 666.2,451.1 665.3,448 665.6,438.5"/>
<polygon points="669,439.7 685.1,440.6 684.4,449.6 668.5,448.3" fill="none"/>
<polyline points="666.2,436.3 669,439.7" fill="none"/><polyline points="668.5,448.3 666.4,450.8" fill="none"/>
<path d="M661,438.8 L665.6,438.8 A2,3.4 0 0 1 665.6,445.6 L661,445.6"/>
</g>
<g transform="translate(235,0)">
<polygon points="666.2,436.3 682.5,437 685.1,440.6 684.4,449.7 683.5,452.1 666.2,451.1 665.3,448 665.6,438.5"/>
<polygon points="669,439.7 685.1,440.6 684.4,449.6 668.5,448.3" fill="none"/>
<polyline points="666.2,436.3 669,439.7" fill="none"/><polyline points="668.5,448.3 666.4,450.8" fill="none"/>
<polyline points="667.2,440.4 667.2,447.3" fill="none"/>
</g>
<polygon points="303.4,1029.4 317.2,1027.3 324.1,1027.6 327.6,1028.8 327.9,1094.5 327.2,1095.5 309.5,1097.5 304.5,1094.2"/>
<polyline points="303.4,1029.4 308.2,1033.6 322,1031.8 327.6,1030" fill="none"/>
<polyline points="308.3,1033.6 309.5,1097.3" fill="none"/><polyline points="322.9,1032 324,1095.8" fill="none"/>
<polyline points="304.5,1092.6 309.2,1092.2" fill="none"/>
<path d="M317.2,1024 L317.2,1027.6 A3.45,3.6 0 0 0 324.1,1027.6 L324.6,1024" />
</g>
<ellipse cx="309.4" cy="1030.9" rx="1.1" ry="0.8" fill="#000"/>
</svg></body></html>
